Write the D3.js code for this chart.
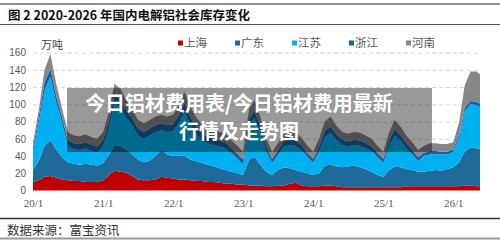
<!DOCTYPE html>
<html>
<head>
<meta charset="utf-8">
<script src="https://cdn.jsdelivr.net/npm/d3@7"></script>
<style>
  body { margin: 0; background: #fff; }
  svg { display: block; }
</style>
</head>
<body>
<svg id="chart"></svg>
<script>
const width = 500;
const height = 242;

// monthly points, last one is the latest week shown
const months = [
  "2020-01","2020-02","2020-03","2020-04","2020-05","2020-06","2020-07","2020-08","2020-09","2020-10","2020-11","2020-12",
  "2021-01","2021-02","2021-03","2021-04","2021-05","2021-06","2021-07","2021-08","2021-09","2021-10","2021-11","2021-12",
  "2022-01","2022-02","2022-03","2022-04","2022-05","2022-06","2022-07","2022-08","2022-09","2022-10","2022-11","2022-12",
  "2023-01","2023-02","2023-03","2023-04","2023-05","2023-06","2023-07","2023-08","2023-09","2023-10","2023-11","2023-12",
  "2024-01","2024-02","2024-03","2024-04","2024-05","2024-06","2024-07","2024-08","2024-09","2024-10","2024-11","2024-12",
  "2025-01","2025-02","2025-03","2025-04","2025-05","2025-06","2025-07","2025-08","2025-09","2025-10","2025-11","2025-12",
  "2026-01","2026-02","2026-03","2026-04","2026-05","2026-05-20"
];

const regions = ["上海", "广东", "江苏", "浙江", "河南"];
const regionColors = ["#C00000", "#1F6A9A", "#00B0F0", "#1464A5", "#868686"];

// 万吨
const shanghai = [
  10,12,16,17,15,13,12,11,11,10,10,10,
  12,18,23,22,21,17,13,12,12,13,16,15,
  14,13,13,12,11,11,10,10,9,8,8,7,
  7,6,6,6,5,5,6,6,8,9,6,5,
  5,5,6,6,5,4,4,4,4,4,4,4,
  4,4,4,4,5,5,5,5,5,5,5,5,
  5,5,6,6,5,5
];
const guangdong = [
  14,23,36,41,33,25,21,20,19,21,20,19,
  20,24,30,30,27,25,23,21,23,27,31,27,
  26,28,27,24,23,21,20,18,17,16,14,13,
  11,30,33,24,17,13,18,21,18,15,16,15,
  13,15,23,24,23,23,24,25,23,21,18,14,
  12,20,24,23,20,19,17,17,18,19,18,20,
  22,28,39,44,44,43
];
const jiangsu = [
  21,45,64,74,54,40,19,17,17,18,16,15,
  20,31,49,44,37,34,28,27,29,28,23,26,
  29,38,52,40,32,26,25,25,25,25,21,17,
  12,40,45,37,23,14,17,24,27,28,25,19,
  14,25,33,37,31,26,23,24,25,24,24,21,
  16,28,36,31,24,18,12,18,19,18,19,17,
  18,29,47,50,50,49
];
const zhejiang = [
  5,7,10,9,8,7,6,7,7,7,7,7,
  7,8,9,9,8,8,8,8,8,8,8,8,
  8,9,10,9,8,8,7,7,7,7,6,6,
  6,7,8,7,6,5,6,6,6,6,6,5,
  5,6,7,7,6,6,6,6,6,6,5,5,
  5,6,7,6,6,5,5,4,4,4,3,3,
  3,4,4,4,4,4
];
const henan = [
  5,8,14,17,14,10,10,9,9,9,9,9,
  9,11,13,13,12,11,10,10,10,10,10,10,
  11,12,13,12,11,10,10,10,10,10,9,9,
  9,12,13,11,9,8,8,9,9,9,9,8,
  8,9,11,12,10,9,9,9,9,9,9,8,
  8,10,11,10,9,9,8,8,9,9,9,9,
  8,14,26,34,35,34
];

const yTicks = [0, 20, 40, 60, 80, 100, 120, 140, 160];
const xTickDates = ["2020-01","2021-01","2022-01","2023-01","2024-01","2025-01","2026-01"];
const xTickLabels = ["20/1","21/1","22/1","23/1","24/1","25/1","26/1"];

const titleText = "图 2 2020-2026 年国内电解铝社会库存变化";
const sourceText = "数据来源：富宝资讯";
const overlayLines = ["今日铝材费用表/今日铝材费用最新", "行情及走势图"];

const seriesByRegion = [shanghai, guangdong, jiangsu, zhejiang, henan];
const rows = months.map((m, i) => {
  const row = { date: d3.isoParse(m) };
  regions.forEach((r, k) => { row[r] = seriesByRegion[k][i]; });
  return row;
});

const svg = d3.select("#chart")
    .attr("width", width)
    .attr("height", height);

const x = d3.scaleTime()
    .domain([d3.isoParse("2020-01"), d3.isoParse("2026-05-20")])
    .range([33, 480]);

const y = d3.scaleLinear()
    .domain([0, 160])
    .range([190.6, 52.6]);

const color = d3.scaleOrdinal().domain(regions).range(regionColors);

// header / footer rules
svg.append("line").attr("x1", 0).attr("x2", width).attr("y1", 4).attr("y2", 4)
    .attr("stroke", "#6d6d6d").attr("stroke-width", 1.5);
svg.append("line").attr("x1", 0).attr("x2", width).attr("y1", 24.5).attr("y2", 24.5)
    .attr("stroke", "#555").attr("stroke-width", 1);
svg.append("line").attr("x1", 0).attr("x2", width).attr("y1", 218.5).attr("y2", 218.5)
    .attr("stroke", "#333").attr("stroke-width", 1.3);
svg.append("line").attr("x1", 0).attr("x2", width).attr("y1", 238.5).attr("y2", 238.5)
    .attr("stroke", "#9a9a9a").attr("stroke-width", 2);

svg.append("text")
    .attr("x", 8).attr("y", 19.5)
    .style("font-family", "'Noto Sans CJK SC', sans-serif")
    .style("font-size", "12.5px")
    .style("font-weight", "bold")
    .style("fill", "#111")
    .text(titleText);

svg.append("text")
    .attr("x", 7).attr("y", 235)
    .style("font-family", "'Noto Sans CJK SC', sans-serif")
    .style("font-size", "12.5px")
    .style("fill", "#333")
    .text(sourceText);

// gridlines
svg.append("g")
  .selectAll("line")
  .data(yTicks.filter(t => t > 0))
  .join("line")
    .attr("x1", 33).attr("x2", 480)
    .attr("y1", d => y(d) + 0.5).attr("y2", d => y(d) + 0.5)
    .attr("stroke", "#d6d6d6")
    .attr("stroke-dasharray", "4,3");

const stack = d3.stack().keys(regions);
const layers = stack(rows);

const area = d3.area()
    .x(d => x(d.data.date))
    .y0(d => y(d[0]))
    .y1(d => y(d[1]));

svg.append("g")
  .selectAll("path")
  .data(layers)
  .join("path")
    .attr("d", area)
    .attr("fill", d => color(d.key));

// axes
const yAxis = svg.append("g")
    .attr("transform", "translate(26,0)")
    .call(d3.axisLeft(y).tickValues(yTicks).tickSize(0).tickPadding(0));
yAxis.select(".domain").remove();
yAxis.selectAll("text")
    .style("font-family", "'Liberation Sans', Arial, sans-serif")
    .style("font-size", "10px")
    .style("fill", "#595959");

const xAxis = svg.append("g")
    .attr("transform", "translate(0,199)")
    .call(d3.axisBottom(x)
        .tickValues(xTickDates.map(d3.isoParse))
        .tickFormat((d, i) => xTickLabels[i])
        .tickSize(0).tickPadding(0));
xAxis.select(".domain").remove();
xAxis.selectAll("text")
    .style("font-family", "'Liberation Serif', serif")
    .style("font-size", "11px")
    .style("fill", "#595959");

svg.append("text")
    .attr("x", 41).attr("y", 49)
    .style("font-family", "'Noto Sans CJK SC', sans-serif")
    .style("font-size", "11px")
    .style("fill", "#404040")
    .text("万吨");

// legend
const legend = svg.append("g")
  .selectAll("g")
  .data(regions)
  .join("g")
    .attr("transform", (d, i) => `translate(${178 + i * 57},43)`);

legend.append("rect")
    .attr("x", 0).attr("y", -2.5)
    .attr("width", 5).attr("height", 5)
    .attr("fill", d => color(d));

legend.append("text")
    .attr("x", 6).attr("y", 4.3)
    .style("font-family", "'Noto Sans CJK SC', sans-serif")
    .style("font-size", "11.5px")
    .style("fill", "#595959")
    .text(d => d);

// watermark banner over the chart
svg.append("rect")
    .attr("x", 67).attr("y", 88)
    .attr("width", 365).attr("height", 64)
    .attr("fill", "rgba(0,0,0,0.4)");

svg.append("g")
  .selectAll("text")
  .data(overlayLines)
  .join("text")
    .attr("x", 239)
    .attr("y", (d, i) => 111 + i * 28)
    .attr("text-anchor", "middle")
    .style("font-family", "'Noto Sans CJK SC', sans-serif")
    .style("font-size", "20px")
    .style("font-weight", "bold")
    .style("fill", "#fff")
    .text(d => d);
</script>
</body>
</html>
